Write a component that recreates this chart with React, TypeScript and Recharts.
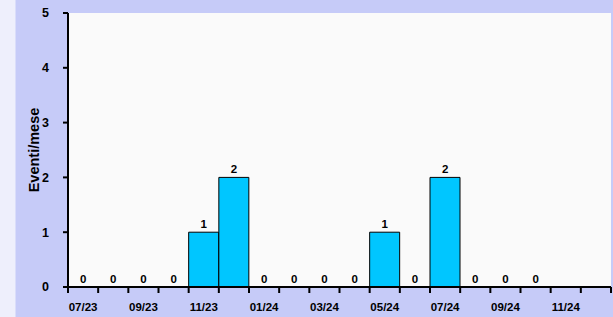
import React from 'react';
import { ComposedChart, Bar, Line, XAxis, YAxis, CartesianGrid, LabelList } from 'recharts';

const months = [
  '07/23', '08/23', '09/23', '10/23', '11/23', '12/23',
  '01/24', '02/24', '03/24', '04/24', '05/24', '06/24',
  '07/24', '08/24', '09/24', '10/24', '11/24', '12/24',
];
const events: (number | null)[] = [0, 0, 0, 0, 1, 2, 0, 0, 0, 0, 1, 0, 2, 0, 0, 0, null, null];
const yTicks = [0, 1, 2, 3, 4, 5];

const data = months.map((month, i) => ({ month, eventi: events[i] }));

const FONT = '"Liberation Sans", Arial, sans-serif';

// tick marks sit on band edges, labels on every other month
const MonthTick = (props: any) => {
  const { x, y, payload, index, width } = props;
  const half = width / months.length / 2;
  const last = index === months.length - 1;
  return (
    <g>
      <line x1={x - half} x2={x - half} y1={y} y2={y + 6} stroke="#000" strokeWidth={2} />
      {last && <line x1={x + half} x2={x + half} y1={y} y2={y + 6} stroke="#000" strokeWidth={2} />}
      {index % 2 === 0 && (
        <text x={x} y={y + 24} textAnchor="middle" fontSize={11.5} fontWeight="bold" fill="#000" fontFamily={FONT}>
          {payload.value}
        </text>
      )}
    </g>
  );
};

export default function App() {
  return (
    <div
      style={{
        width: 613,
        height: 317,
        position: 'absolute',
        left: 0,
        top: 0,
        background: 'linear-gradient(to right, #eeeffc 0px, #eeeffc 15px, #c6cbf8 16px, #c6cbf8 100%)',
        fontFamily: FONT,
      }}
    >
      <style>{'body{margin:0}'}</style>
      <ComposedChart
        width={613}
        height={317}
        data={data}
        margin={{ top: 13, right: 2, left: 0, bottom: 0 }}
        barCategoryGap={0}
        barGap={0}
      >
        <CartesianGrid horizontal={false} vertical={false} fill="#fafafa" />
        <XAxis
          dataKey="month"
          height={30}
          interval={0}
          tickLine={false}
          tickSize={0}
          tickMargin={0}
          axisLine={{ stroke: '#000', strokeWidth: 2 }}
          tick={<MonthTick />}
        />
        <XAxis
          xAxisId="top"
          dataKey="month"
          orientation="top"
          height={0}
          tick={false}
          tickLine={false}
          axisLine={{ stroke: '#000', strokeWidth: 2 }}
        />
        <YAxis
          width={68}
          domain={[0, 5]}
          ticks={yTicks}
          interval={0}
          tickSize={5}
          tickMargin={14}
          tickLine={{ stroke: '#000', strokeWidth: 2 }}
          axisLine={{ stroke: '#000', strokeWidth: 2 }}
          tick={{ fill: '#000', fontSize: 12.5, fontWeight: 'bold', fontFamily: FONT }}
          label={{
            value: 'Eventi/mese',
            angle: -90,
            position: 'center',
            style: { fill: '#000', fontSize: 14.5, fontWeight: 'bold', fontFamily: FONT },
          }}
        />
        <YAxis
          yAxisId="right"
          orientation="right"
          width={0}
          tick={false}
          tickLine={false}
          axisLine={{ stroke: '#000', strokeWidth: 2 }}
        />
        <Bar dataKey="eventi" fill="#00c6ff" stroke="#000" strokeWidth={1} isAnimationActive={false} />
        <Line
          dataKey="eventi"
          stroke="none"
          dot={false}
          activeDot={false}
          isAnimationActive={false}
        >
          <LabelList
            dataKey="eventi"
            position="top"
            offset={4}
            style={{ fill: '#000', fontSize: 11.5, fontWeight: 'bold', fontFamily: FONT }}
          />
        </Line>
      </ComposedChart>
    </div>
  );
}
